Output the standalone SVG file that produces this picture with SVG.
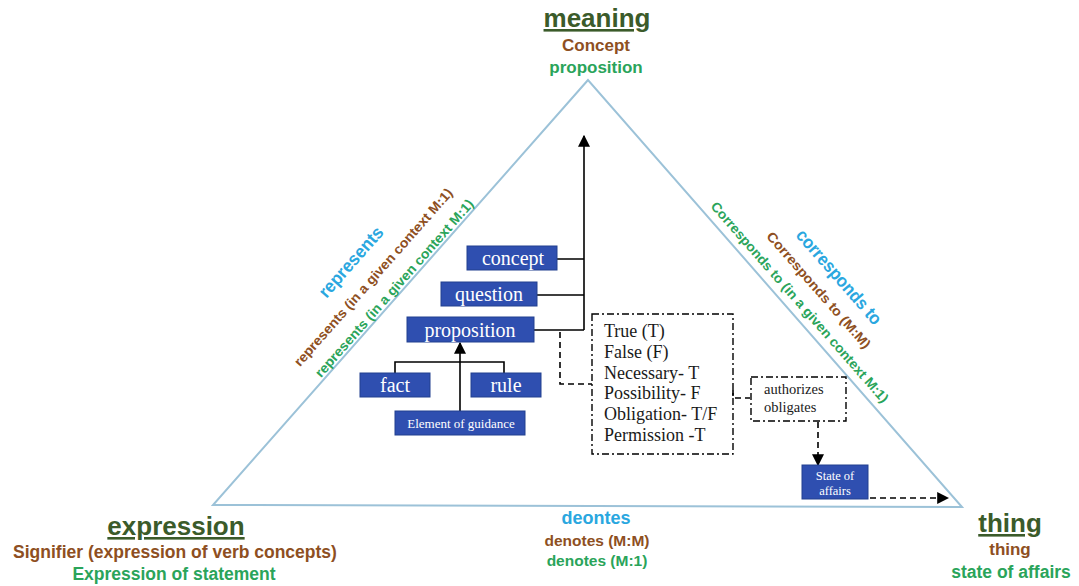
<svg xmlns="http://www.w3.org/2000/svg" width="1079" height="586" viewBox="0 0 1079 586">
  <style>
    .box { fill: #2f4fb0; stroke: #22408f; stroke-width: 1; }
    .btxt { font-family: "Liberation Serif", "DejaVu Serif", serif; fill: #ffffff; text-anchor: middle; }
    .list { font-family: "Liberation Serif", "DejaVu Serif", serif; fill: #1a1a1a; font-size: 18px; }
    .small { font-size: 14.5px; }
    .line { fill: none; stroke: #000; stroke-width: 1.6; }
    .dash { fill: none; stroke: #000; stroke-width: 1.6; stroke-dasharray: 6 4; }
    .dashdot { fill: none; stroke: #000; stroke-width: 1.4; stroke-dasharray: 7 3 2 3; }
    .lbl { font-family: "Liberation Sans", Arial, sans-serif; font-weight: bold; text-anchor: middle; }
    .head { font-size: 26px; fill: #3b5b2a; text-decoration: underline; }
    .brown { fill: #8e4f22; }
    .green { fill: #2aa45a; }
    .blue { fill: #2aa7df; }
  </style>
  <defs>
    <marker id="arrL" viewBox="0 0 10 10" refX="9" refY="5" markerWidth="12" markerHeight="12" orient="auto" markerUnits="userSpaceOnUse">
      <path d="M0 0 L10 5 L0 10 z" fill="#000"/>
    </marker>
  </defs>

  <!-- semiotic triangle -->
  <polygon id="triangle" points="588,80 213,505 962,507" fill="none" stroke="#9cc2d8" stroke-width="2"/>

  <!-- corner labels -->
  <g id="meaning">
    <text class="lbl head" x="597" y="27">meaning</text>
    <text class="lbl brown" x="596" y="51" font-size="17">Concept</text>
    <text class="lbl green" x="596" y="73" font-size="17">proposition</text>
  </g>
  <g id="expression">
    <text class="lbl head" x="176" y="535">expression</text>
    <text class="lbl brown" x="175" y="558" font-size="17.5">Signifier (expression of verb concepts)</text>
    <text class="lbl green" x="174" y="580" font-size="17.5">Expression of statement</text>
  </g>
  <g id="thing">
    <text class="lbl head" x="1010" y="532">thing</text>
    <text class="lbl brown" x="1010" y="555" font-size="17">thing</text>
    <text class="lbl green" x="1011" y="578" font-size="17.5">state of affairs</text>
  </g>

  <!-- edge labels -->
  <g id="edge-represents">
    <text class="lbl blue" font-size="18" textLength="88" lengthAdjust="spacingAndGlyphs" transform="translate(351,262) rotate(-48.6)" y="6">represents</text>
    <text class="lbl brown" font-size="13.5" textLength="232" lengthAdjust="spacingAndGlyphs" transform="translate(373,277) rotate(-48.6)" y="5">represents (in a given context M:1)</text>
    <text class="lbl green" font-size="13.5" textLength="232" lengthAdjust="spacingAndGlyphs" transform="translate(394,288) rotate(-48.6)" y="5">represents (in a given context M:1)</text>
  </g>
  <g id="edge-corresponds">
    <text class="lbl blue" font-size="18" textLength="120" lengthAdjust="spacingAndGlyphs" transform="translate(839,277) rotate(48.8)" y="6">corresponds to</text>
    <text class="lbl brown" font-size="13.5" textLength="150" lengthAdjust="spacingAndGlyphs" transform="translate(819,290) rotate(48.8)" y="5">Corresponds to  (M:M)</text>
    <text class="lbl green" font-size="13.5" textLength="262" lengthAdjust="spacingAndGlyphs" transform="translate(800,302) rotate(48.8)" y="5">Corresponds to (in a given context M:1)</text>
  </g>
  <g id="edge-denotes">
    <text class="lbl blue" x="596" y="524" font-size="18">deontes</text>
    <text class="lbl brown" x="597" y="546" font-size="15.5">denotes (M:M)</text>
    <text class="lbl green" x="597" y="566" font-size="15.5">denotes (M:1)</text>
  </g>

  <!-- connectors -->
  <g id="connectors">
    <path class="line" d="M557 259 H584 M537 295 H584 M534 330 H584" />
    <path class="line" d="M584 330 V136" marker-end="url(#arrL)"/>
    <path class="line" d="M395 373 V362 H504 V373"/>
    <path class="line" d="M460 411 V343" marker-end="url(#arrL)"/>
    <path class="dash" d="M560 332 V384 H592"/>
    <path class="dash" d="M733 390 V398 H750"/>
    <path class="dash" d="M818 422 V465" marker-end="url(#arrL)"/>
    <path class="dash" d="M870 498 H948" marker-end="url(#arrL)"/>
  </g>

  <!-- concept nodes -->
  <g id="concept">
    <rect class="box" x="467" y="246" width="90" height="24"/>
    <text class="btxt" x="513" y="265" font-size="20">concept</text>
  </g>
  <g id="question">
    <rect class="box" x="441" y="282" width="96" height="24"/>
    <text class="btxt" x="489" y="301" font-size="20">question</text>
  </g>
  <g id="proposition">
    <rect class="box" x="407" y="317" width="127" height="25"/>
    <text class="btxt" x="470" y="337" font-size="20">proposition</text>
  </g>
  <g id="fact">
    <rect class="box" x="360" y="373" width="70" height="24"/>
    <text class="btxt" x="395" y="392" font-size="20">fact</text>
  </g>
  <g id="rule">
    <rect class="box" x="471" y="373" width="70" height="24"/>
    <text class="btxt" x="506" y="392" font-size="20">rule</text>
  </g>
  <g id="element-of-guidance">
    <rect class="box" x="395" y="411" width="130" height="24"/>
    <text class="btxt" x="461" y="428" font-size="13">Element of guidance</text>
  </g>

  <!-- truth / modality values -->
  <g id="values">
    <rect class="dashdot" x="592" y="314" width="141" height="140"/>
    <text class="list" x="604" y="337">True (T)</text>
    <text class="list" x="604" y="358">False (F)</text>
    <text class="list" x="604" y="379">Necessary- T</text>
    <text class="list" x="604" y="399">Possibility- F</text>
    <text class="list" x="604" y="420">Obligation- T/F</text>
    <text class="list" x="604" y="441">Permission -T</text>
  </g>

  <g id="authorizes">
    <rect class="dashdot" x="751" y="377" width="95" height="44"/>
    <text class="list small" x="764" y="394">authorizes</text>
    <text class="list small" x="764" y="412">obligates</text>
  </g>

  <g id="state-of-affairs">
    <rect class="box" x="802" y="465" width="66" height="34"/>
    <text class="btxt" x="835" y="480" font-size="12.5">State of</text>
    <text class="btxt" x="835" y="495" font-size="12.5">affairs</text>
  </g>
</svg>
